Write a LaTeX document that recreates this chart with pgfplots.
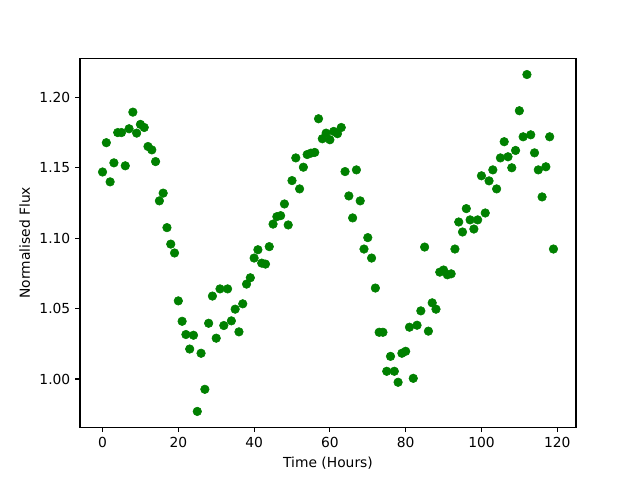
\documentclass[border=0pt]{standalone}
\usepackage{fontspec}
\setmainfont{DejaVu Sans}
\usepackage{pgfplots}
\pgfplotsset{compat=1.18}
\definecolor{mplgreen}{HTML}{008000}
\begin{document}
\begin{tikzpicture}
\useasboundingbox (0,0) rectangle (6.4in,4.8in);
\begin{axis}[
  at={(0.8in,0.528in)}, anchor=south west,
  scale only axis, width=4.96in, height=3.69in,
  xmin=-5.95, xmax=124.95, ymin=0.9658, ymax=1.2278,
  xtick={0,20,40,60,80,100,120},
  ytick={1.00,1.05,1.10,1.15,1.20},
  yticklabel style={/pgf/number format/.cd, fixed, fixed zerofill, precision=2},
  /pgf/number format/assume math mode=true,
  tick pos=left, tick align=outside,
  major tick length=3.5pt,
  every tick/.style={black, line width=0.8pt},
  axis line style={line width=0.8pt},
  ticklabel style={font=\fontsize{10}{12}\selectfont},
  label style={font=\fontsize{10}{12}\selectfont},
  xlabel={Time (Hours)}, ylabel={Normalised Flux},
  clip=false,
]
\addplot[only marks, mark=*, mark size=3.1pt, mplgreen, mark options={draw=mplgreen, fill=mplgreen}] table {
x y
0 1.147
1 1.1678
2 1.140
3 1.1535
4 1.175
5 1.175
6 1.1514
7 1.1777
8 1.1895
9 1.1746
10 1.1808
11 1.1786
12 1.1651
13 1.1627
14 1.1544
15 1.1265
16 1.132
17 1.1075
18 1.0958
19 1.0895
20 1.0555
21 1.041
22 1.0316
23 1.0213
24 1.0311
25 0.977
26 1.0183
27 0.9927
28 1.0396
29 1.0589
30 1.029
31 1.064
32 1.038
33 1.064
34 1.0413
35 1.0496
36 1.0335
37 1.0534
38 1.0674
39 1.0719
40 1.0859
41 1.0918
42 1.0823
43 1.0816
44 1.094
45 1.110
46 1.1153
47 1.116
48 1.1243
49 1.1094
50 1.1409
51 1.157
52 1.135
53 1.1504
54 1.1594
55 1.1604
56 1.1609
57 1.1848
58 1.1706
59 1.1746
60 1.1699
61 1.1758
62 1.1742
63 1.1786
64 1.1473
65 1.130
66 1.1144
67 1.1485
68 1.1265
69 1.0923
70 1.1004
71 1.0859
72 1.0646
73 1.0332
74 1.0332
75 1.0055
76 1.0161
77 1.0055
78 0.9977
79 1.0183
80 1.0197
81 1.0368
82 1.0005
83 1.0382
84 1.0484
85 1.0937
86 1.034
87 1.0541
88 1.0496
89 1.0759
90 1.0774
91 1.074
92 1.0747
93 1.0923
94 1.1115
95 1.1044
96 1.121
97 1.113
98 1.1065
99 1.113
100 1.1443
101 1.1179
102 1.1407
103 1.1485
104 1.135
105 1.157
106 1.1685
107 1.1578
108 1.150
109 1.1623
110 1.1905
111 1.172
112 1.2162
113 1.1734
114 1.1606
115 1.1485
116 1.1293
117 1.1507
118 1.172
119 1.0923
};
\end{axis}
\end{tikzpicture}
\end{document}
